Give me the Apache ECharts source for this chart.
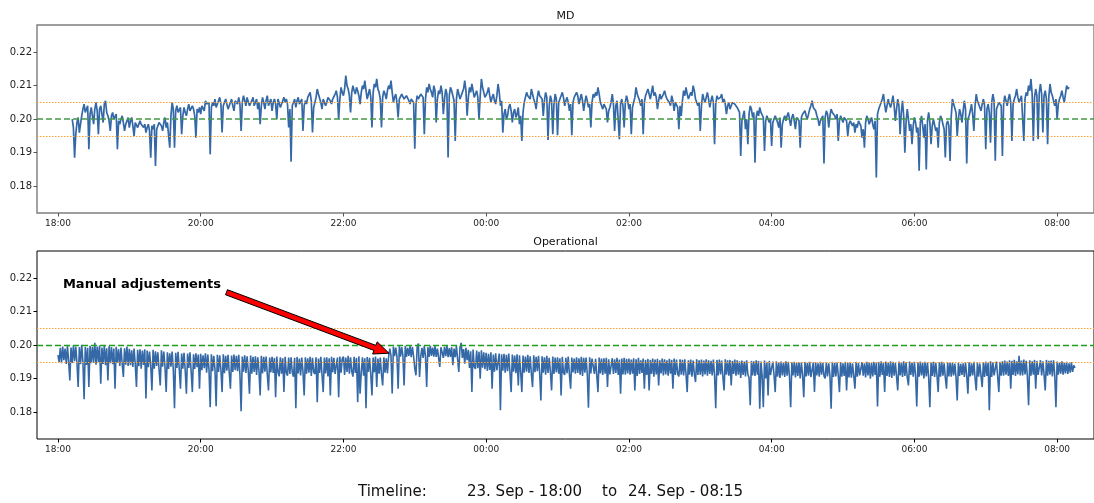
<!DOCTYPE html>
<html>
<head>
<meta charset="utf-8">
<script src="https://cdn.jsdelivr.net/npm/echarts@6/dist/echarts.min.js"></script>
<style>
  html, body { margin: 0; padding: 0; background: #ffffff; }
  #chart { width: 1094px; height: 503px; }
</style>
</head>
<body>
<div id="chart"></div>
<script>
// ---- Data -------------------------------------------------------------
// Time is counted in minutes after 23 Sep 18:00.

// MD reading: one sample per minute from 18:12 to 08:10
const mdStartMin = 12;
const mdStepMin = 1;
const mdValues = [
  0.2000, 0.1975, 0.1885, 0.1955, 0.1990, 0.2005, 0.1960, 0.1985, 0.2010, 0.2030, 0.2045, 0.2020, 0.2025, 0.2040, 0.1910, 0.2015, 0.2035, 0.2010, 0.1985, 0.2030, // 18:12
  0.2050, 0.2025, 0.1955, 0.2030, 0.2040, 0.2015, 0.1990, 0.2045, 0.2055, 0.2020, 0.2010, 0.1995, 0.1965, 0.2010, 0.2020, 0.2000, 0.1995, 0.2015, 0.1910, 0.1995, // 18:32
  0.1985, 0.2000, 0.2010, 0.1990, 0.1965, 0.1985, 0.1995, 0.2005, 0.1975, 0.1995, 0.2005, 0.1980, 0.1950, 0.1990, 0.1990, 0.1975, 0.1970, 0.1995, 0.1985, 0.1980, // 18:52
  0.1975, 0.1985, 0.1960, 0.1975, 0.1985, 0.1965, 0.1885, 0.1980, 0.1970, 0.1985, 0.1860, 0.1970, 0.1975, 0.1990, 0.1995, 0.1980, 0.1965, 0.1990, 0.2005, 0.1975, // 19:12
  0.1990, 0.1985, 0.1915, 0.2010, 0.2050, 0.2030, 0.1915, 0.2025, 0.2040, 0.2020, 0.2015, 0.2035, 0.1955, 0.2010, 0.2035, 0.2020, 0.2010, 0.2030, 0.2045, 0.2025, // 19:32
  0.2025, 0.2040, 0.2030, 0.2010, 0.1945, 0.2030, 0.2020, 0.2035, 0.2015, 0.2040, 0.2035, 0.2025, 0.2055, 0.2045, 0.2040, 0.2050, 0.1895, 0.2035, 0.2050, 0.2040, // 19:52
  0.2060, 0.2035, 0.2040, 0.2055, 0.2065, 0.2045, 0.1960, 0.2040, 0.2045, 0.2060, 0.2055, 0.2030, 0.2035, 0.2050, 0.2060, 0.2040, 0.2025, 0.2055, 0.2050, 0.2045, // 20:12
  0.2065, 0.2045, 0.1965, 0.2050, 0.2070, 0.2055, 0.2040, 0.2065, 0.2060, 0.2040, 0.2035, 0.2055, 0.2065, 0.2040, 0.2045, 0.2060, 0.2030, 0.2050, 0.1985, 0.2040, // 20:32
  0.2065, 0.2050, 0.2030, 0.2055, 0.2070, 0.2040, 0.2045, 0.2060, 0.2025, 0.2050, 0.2060, 0.2045, 0.2000, 0.2060, 0.2055, 0.2035, 0.2040, 0.2055, 0.2065, 0.2050, // 20:52
  0.2060, 0.2045, 0.1975, 0.2030, 0.1873, 0.2040, 0.2050, 0.2060, 0.2035, 0.2055, 0.2065, 0.2045, 0.2045, 0.2060, 0.1965, 0.2040, 0.2055, 0.2045, 0.2065, 0.2070, // 21:12
  0.2080, 0.2055, 0.1960, 0.2035, 0.2040, 0.2065, 0.2090, 0.2075, 0.2070, 0.2050, 0.2030, 0.2060, 0.2055, 0.2040, 0.2050, 0.2065, 0.2065, 0.2055, 0.2045, 0.2060, // 21:32
  0.2060, 0.2075, 0.2085, 0.2065, 0.2000, 0.2060, 0.2095, 0.2080, 0.2070, 0.2090, 0.2130, 0.2100, 0.2090, 0.2070, 0.2020, 0.2080, 0.2100, 0.2085, 0.2075, 0.2095, // 21:52
  0.2085, 0.2070, 0.2045, 0.2080, 0.2100, 0.2090, 0.2115, 0.2085, 0.2060, 0.2075, 0.2090, 0.2065, 0.1975, 0.2080, 0.2105, 0.2095, 0.2120, 0.2090, 0.2080, 0.2060, // 22:12
  0.1975, 0.2065, 0.2085, 0.2075, 0.2060, 0.2085, 0.2100, 0.2090, 0.2115, 0.2080, 0.2050, 0.2065, 0.2075, 0.2050, 0.2005, 0.2060, 0.2055, 0.2075, 0.2070, 0.2060, // 22:32
  0.2060, 0.2070, 0.2075, 0.2055, 0.2045, 0.2060, 0.2065, 0.2050, 0.1912, 0.2045, 0.2070, 0.2060, 0.2055, 0.2075, 0.2080, 0.2065, 0.1955, 0.2060, 0.2095, 0.2080, // 22:52
  0.2105, 0.2090, 0.2080, 0.2065, 0.2100, 0.2085, 0.1990, 0.2060, 0.2085, 0.2075, 0.2100, 0.2080, 0.2015, 0.2060, 0.2090, 0.2075, 0.1886, 0.2070, 0.2095, 0.2085, // 23:12
  0.2070, 0.2055, 0.1935, 0.2060, 0.2090, 0.2075, 0.2060, 0.2070, 0.2080, 0.2090, 0.2115, 0.2085, 0.2010, 0.2065, 0.2095, 0.2080, 0.2105, 0.2085, 0.2065, 0.2075, // 23:32
  0.2085, 0.2065, 0.2000, 0.2070, 0.2120, 0.2095, 0.2080, 0.2065, 0.2060, 0.2080, 0.2095, 0.2070, 0.2050, 0.2065, 0.2075, 0.2055, 0.2045, 0.2070, 0.2105, 0.2080, // 23:52
  0.2040, 0.2055, 0.1960, 0.2015, 0.2030, 0.2000, 0.2010, 0.2035, 0.2045, 0.2025, 0.1990, 0.2020, 0.2030, 0.2005, 0.2015, 0.2035, 0.1985, 0.2010, 0.1935, 0.2020, // 00:12
  0.2050, 0.2065, 0.2080, 0.2070, 0.2075, 0.2060, 0.2090, 0.2075, 0.2060, 0.2050, 0.2030, 0.2065, 0.2085, 0.2070, 0.2075, 0.2060, 0.2010, 0.2055, 0.2080, 0.2065, // 00:32
  0.1938, 0.2040, 0.2070, 0.2055, 0.1955, 0.2045, 0.2075, 0.2060, 0.1952, 0.2050, 0.2060, 0.2070, 0.2080, 0.2065, 0.2040, 0.2055, 0.2065, 0.2050, 0.2025, 0.2045, // 00:52
  0.1952, 0.2050, 0.2065, 0.2060, 0.2080, 0.2070, 0.2045, 0.2060, 0.2075, 0.2055, 0.2025, 0.2050, 0.2070, 0.2055, 0.2035, 0.2045, 0.1975, 0.2050, 0.2075, 0.2065, // 01:12
  0.2080, 0.2070, 0.2095, 0.2075, 0.2050, 0.2040, 0.2030, 0.2045, 0.2045, 0.2030, 0.1990, 0.2025, 0.2035, 0.2050, 0.2075, 0.2045, 0.1965, 0.2040, 0.2055, 0.2060, // 01:32
  0.1940, 0.2045, 0.2060, 0.2040, 0.1975, 0.2050, 0.2070, 0.2055, 0.2030, 0.2045, 0.1955, 0.2035, 0.2050, 0.2065, 0.2095, 0.2075, 0.2070, 0.2055, 0.2040, 0.2060, // 01:52
  0.1955, 0.2050, 0.2070, 0.2065, 0.2090, 0.2075, 0.2060, 0.2080, 0.2100, 0.2070, 0.2080, 0.2065, 0.2030, 0.2055, 0.2075, 0.2060, 0.2065, 0.2075, 0.2085, 0.2070, // 02:12
  0.2060, 0.2065, 0.2050, 0.2040, 0.2070, 0.2055, 0.2025, 0.2050, 0.2045, 0.2035, 0.1970, 0.2040, 0.2010, 0.2055, 0.2085, 0.2070, 0.2095, 0.2075, 0.2060, 0.2065, // 02:32
  0.2080, 0.2070, 0.2100, 0.2085, 0.2060, 0.2055, 0.2040, 0.2050, 0.1965, 0.2040, 0.2075, 0.2060, 0.2050, 0.2065, 0.2080, 0.2060, 0.2035, 0.2055, 0.2070, 0.2050, // 02:52
  0.1925, 0.2045, 0.2070, 0.2060, 0.2055, 0.2065, 0.2075, 0.2050, 0.2060, 0.2045, 0.2015, 0.2040, 0.2050, 0.2030, 0.2035, 0.2050, 0.2055, 0.2045, 0.2040, 0.2035, // 03:12
  0.2030, 0.2020, 0.1890, 0.1995, 0.2010, 0.2025, 0.1970, 0.2000, 0.1925, 0.2015, 0.2040, 0.2030, 0.2005, 0.2020, 0.1870, 0.2005, 0.2025, 0.2010, 0.2035, 0.2020, // 03:32
  0.2020, 0.2005, 0.1905, 0.1995, 0.2010, 0.2015, 0.1990, 0.2000, 0.1920, 0.1990, 0.1985, 0.2010, 0.2005, 0.1990, 0.1975, 0.2005, 0.1915, 0.1985, 0.2000, 0.2010, // 03:52
  0.1995, 0.2010, 0.2020, 0.2000, 0.1980, 0.2005, 0.2015, 0.1995, 0.1970, 0.2005, 0.2010, 0.1995, 0.1915, 0.2005, 0.2015, 0.2020, 0.2025, 0.2010, 0.2000, 0.2015, // 04:12
  0.2030, 0.2040, 0.2055, 0.2035, 0.2040, 0.2025, 0.2010, 0.2000, 0.1980, 0.1995, 0.2000, 0.2010, 0.1868, 0.2005, 0.2025, 0.2015, 0.1975, 0.2010, 0.2030, 0.2020, // 04:32
  0.2020, 0.2010, 0.2000, 0.2015, 0.1935, 0.1995, 0.2010, 0.2000, 0.1990, 0.2005, 0.2005, 0.1995, 0.1950, 0.1985, 0.1995, 0.2000, 0.1980, 0.1990, 0.1960, 0.1985, // 04:52
  0.1975, 0.1995, 0.1990, 0.1980, 0.1945, 0.1970, 0.1915, 0.1990, 0.2010, 0.2000, 0.1985, 0.1995, 0.2005, 0.1985, 0.1970, 0.1995, 0.1826, 0.2015, 0.2030, 0.2040, // 05:12
  0.2050, 0.2060, 0.2075, 0.2045, 0.2020, 0.2040, 0.2060, 0.2045, 0.2035, 0.2050, 0.2070, 0.2040, 0.1995, 0.2030, 0.2060, 0.2040, 0.1955, 0.2020, 0.2055, 0.2010, // 05:32
  0.1900, 0.1990, 0.2030, 0.2000, 0.1965, 0.1985, 0.1925, 0.1980, 0.2005, 0.1990, 0.1960, 0.1975, 0.1846, 0.1990, 0.2010, 0.1980, 0.1945, 0.1985, 0.1850, 0.1995, // 05:52
  0.2020, 0.1990, 0.1925, 0.1980, 0.2000, 0.1995, 0.1965, 0.1975, 0.1915, 0.1990, 0.2010, 0.2000, 0.1985, 0.1970, 0.1886, 0.1985, 0.1995, 0.1980, 0.1875, 0.2010, // 06:12
  0.2060, 0.2045, 0.2040, 0.2020, 0.1950, 0.2000, 0.2030, 0.2015, 0.1990, 0.2025, 0.2055, 0.2030, 0.1868, 0.2000, 0.2010, 0.2025, 0.2045, 0.2015, 0.1965, 0.2040, // 06:32
  0.2075, 0.2055, 0.2050, 0.2035, 0.2025, 0.2045, 0.2060, 0.2040, 0.1910, 0.2030, 0.2045, 0.2020, 0.1930, 0.2050, 0.2075, 0.2055, 0.1876, 0.2030, 0.2040, 0.2050, // 06:52
  0.2055, 0.2040, 0.1890, 0.2045, 0.2070, 0.2055, 0.2040, 0.2060, 0.2075, 0.2050, 0.1935, 0.2045, 0.2060, 0.2070, 0.2090, 0.2065, 0.2050, 0.2060, 0.2070, 0.2075, // 07:12
  0.1935, 0.2060, 0.2080, 0.2070, 0.2100, 0.2085, 0.2120, 0.2075, 0.1935, 0.2065, 0.2090, 0.2070, 0.1940, 0.2080, 0.2105, 0.2075, 0.1960, 0.2070, 0.2085, 0.2060, // 07:32
  0.1925, 0.2065, 0.2105, 0.2080, 0.2070, 0.2055, 0.2040, 0.2060, 0.2000, 0.2045, 0.2060, 0.2070, 0.2085, 0.2065, 0.2050, 0.2075, 0.2100, 0.2090, 0.2095          // 07:52
];

// Operational reading: one sample per minute from 18:00 to 08:15
const opStartMin = 0;
const opStepMin = 1;
const opValues = [
  0.1970, 0.1950, 0.1992, 0.1946, 0.1996, 0.1955, 0.1990, 0.1944, 0.1998, 0.1951, 0.1895, 0.1993, 0.1947, 0.1999, 0.1952, // 18:00
  0.1996, 0.1946, 0.1875, 0.1994, 0.1943, 0.2001, 0.1950, 0.1839, 0.1995, 0.1941, 0.1992, 0.1875, 0.1998, 0.1946, 0.1995, // 18:15
  0.1948, 0.2007, 0.1942, 0.1996, 0.1950, 0.1999, 0.1885, 0.1993, 0.1944, 0.2000, 0.1940, 0.1991, 0.1895, 0.1997, 0.1946, // 18:30
  0.1994, 0.1943, 0.1990, 0.1870, 0.1995, 0.1948, 0.1988, 0.1938, 0.1993, 0.1945, 0.1905, 0.1991, 0.1942, 0.1996, 0.1938, // 18:45
  0.1989, 0.1940, 0.1985, 0.1935, 0.1990, 0.1943, 0.1875, 0.1986, 0.1937, 0.1988, 0.1930, 0.1984, 0.1941, 0.1988, 0.1841, // 19:00
  0.1984, 0.1934, 0.1981, 0.1940, 0.1865, 0.1986, 0.1930, 0.1982, 0.1938, 0.1979, 0.1928, 0.1880, 0.1985, 0.1936, 0.1981, // 19:15
  0.1935, 0.1860, 0.1979, 0.1929, 0.1976, 0.1936, 0.1981, 0.1926, 0.1812, 0.1977, 0.1932, 0.1980, 0.1928, 0.1870, 0.1975, // 19:30
  0.1930, 0.1977, 0.1925, 0.1855, 0.1975, 0.1932, 0.1979, 0.1921, 0.1860, 0.1973, 0.1929, 0.1976, 0.1934, 0.1972, 0.1870, // 19:45
  0.1974, 0.1925, 0.1970, 0.1931, 0.1976, 0.1918, 0.1972, 0.1927, 0.1815, 0.1973, 0.1922, 0.1968, 0.1929, 0.1818, 0.1971, // 20:00
  0.1920, 0.1970, 0.1926, 0.1860, 0.1973, 0.1916, 0.1968, 0.1924, 0.1971, 0.1919, 0.1870, 0.1969, 0.1920, 0.1972, 0.1925, // 20:15
  0.1968, 0.1922, 0.1971, 0.1912, 0.1803, 0.1966, 0.1921, 0.1970, 0.1917, 0.1967, 0.1924, 0.1855, 0.1969, 0.1915, 0.1965, // 20:30
  0.1920, 0.1967, 0.1911, 0.1964, 0.1923, 0.1850, 0.1968, 0.1916, 0.1965, 0.1921, 0.1966, 0.1913, 0.1865, 0.1963, 0.1919, // 20:45
  0.1965, 0.1917, 0.1962, 0.1845, 0.1966, 0.1920, 0.1907, 0.1964, 0.1915, 0.1961, 0.1860, 0.1965, 0.1918, 0.1909, 0.1963, // 21:00
  0.1914, 0.1964, 0.1919, 0.1906, 0.1962, 0.1812, 0.1965, 0.1916, 0.1960, 0.1910, 0.1963, 0.1921, 0.1850, 0.1964, 0.1915, // 21:15
  0.1961, 0.1918, 0.1965, 0.1908, 0.1962, 0.1920, 0.1914, 0.1964, 0.1830, 0.1960, 0.1917, 0.1965, 0.1912, 0.1860, 0.1963, // 21:30
  0.1916, 0.1964, 0.1907, 0.1961, 0.1850, 0.1965, 0.1919, 0.1962, 0.1914, 0.1910, 0.1963, 0.1845, 0.1966, 0.1918, 0.1960, // 21:45
  0.1966, 0.1911, 0.1963, 0.1920, 0.1968, 0.1915, 0.1964, 0.1921, 0.1906, 0.1965, 0.1917, 0.1962, 0.1830, 0.1967, 0.1855, // 22:00
  0.1918, 0.1964, 0.1909, 0.1961, 0.1812, 0.1965, 0.1920, 0.1962, 0.1913, 0.1850, 0.1963, 0.1919, 0.1966, 0.1875, 0.1960, // 22:15
  0.1915, 0.1963, 0.1912, 0.1880, 0.1964, 0.1918, 0.1961, 0.1916, 0.1966, 0.1990, 0.1968, 0.1856, 0.1996, 0.1967, 0.1993, // 22:30
  0.1967, 0.1870, 0.1997, 0.1966, 0.1994, 0.1969, 0.1880, 0.1998, 0.1965, 0.1992, 0.1968, 0.1997, 0.1964, 0.1995, 0.1967, // 22:45
  0.1930, 0.1910, 0.1995, 0.2005, 0.1905, 0.1966, 0.1992, 0.1962, 0.1997, 0.1966, 0.1875, 0.1994, 0.1965, 0.1998, 0.1968, // 23:00
  0.1993, 0.1966, 0.1997, 0.1965, 0.1990, 0.1963, 0.1935, 0.1994, 0.1996, 0.1962, 0.1995, 0.1967, 0.1998, 0.1964, 0.1991, // 23:15
  0.1965, 0.1994, 0.1940, 0.1990, 0.1964, 0.1997, 0.1958, 0.1920, 0.1993, 0.2007, 0.1962, 0.1988, 0.1945, 0.1992, 0.1955, // 23:30
  0.1986, 0.1932, 0.1982, 0.1860, 0.1987, 0.1935, 0.1929, 0.1984, 0.1931, 0.1980, 0.1900, 0.1985, 0.1933, 0.1979, 0.1928, // 23:45
  0.1977, 0.1923, 0.1974, 0.1926, 0.1979, 0.1870, 0.1972, 0.1921, 0.1976, 0.1925, 0.1921, 0.1975, 0.1806, 0.1973, 0.1924, // 00:00
  0.1974, 0.1918, 0.1971, 0.1922, 0.1975, 0.1919, 0.1860, 0.1972, 0.1921, 0.1969, 0.1916, 0.1973, 0.1880, 0.1970, 0.1920, // 00:15
  0.1860, 0.1969, 0.1918, 0.1966, 0.1921, 0.1971, 0.1917, 0.1967, 0.1915, 0.1875, 0.1970, 0.1919, 0.1965, 0.1922, 0.1968, // 00:30
  0.1916, 0.1835, 0.1967, 0.1918, 0.1964, 0.1912, 0.1968, 0.1917, 0.1962, 0.1920, 0.1865, 0.1966, 0.1914, 0.1963, 0.1919, // 00:45
  0.1964, 0.1915, 0.1961, 0.1850, 0.1965, 0.1918, 0.1911, 0.1962, 0.1916, 0.1966, 0.1913, 0.1870, 0.1963, 0.1919, 0.1960, // 01:00
  0.1915, 0.1964, 0.1917, 0.1961, 0.1912, 0.1965, 0.1908, 0.1962, 0.1918, 0.1963, 0.1914, 0.1813, 0.1964, 0.1916, 0.1960, // 01:15
  0.1962, 0.1914, 0.1959, 0.1910, 0.1860, 0.1963, 0.1916, 0.1960, 0.1911, 0.1961, 0.1915, 0.1962, 0.1875, 0.1958, 0.1913, // 01:30
  0.1909, 0.1961, 0.1914, 0.1958, 0.1917, 0.1962, 0.1911, 0.1957, 0.1855, 0.1960, 0.1913, 0.1962, 0.1912, 0.1959, 0.1916, // 01:45
  0.1960, 0.1912, 0.1957, 0.1915, 0.1961, 0.1865, 0.1958, 0.1908, 0.1962, 0.1914, 0.1955, 0.1917, 0.1960, 0.1870, 0.1956, // 02:00
  0.1911, 0.1959, 0.1865, 0.1956, 0.1914, 0.1960, 0.1906, 0.1957, 0.1913, 0.1959, 0.1880, 0.1955, 0.1916, 0.1960, 0.1910, // 02:15
  0.1958, 0.1913, 0.1955, 0.1909, 0.1959, 0.1915, 0.1956, 0.1870, 0.1960, 0.1911, 0.1957, 0.1914, 0.1907, 0.1958, 0.1912, // 02:30
  0.1956, 0.1910, 0.1958, 0.1914, 0.1860, 0.1955, 0.1912, 0.1957, 0.1906, 0.1954, 0.1915, 0.1890, 0.1958, 0.1911, 0.1955, // 02:45
  0.1912, 0.1957, 0.1907, 0.1954, 0.1913, 0.1958, 0.1909, 0.1955, 0.1914, 0.1953, 0.1910, 0.1957, 0.1911, 0.1812, 0.1956, // 03:00
  0.1910, 0.1957, 0.1913, 0.1954, 0.1906, 0.1865, 0.1958, 0.1912, 0.1955, 0.1909, 0.1956, 0.1880, 0.1953, 0.1914, 0.1957, // 03:15
  0.1909, 0.1955, 0.1912, 0.1952, 0.1902, 0.1954, 0.1911, 0.1951, 0.1907, 0.1955, 0.1913, 0.1903, 0.1821, 0.1953, 0.1910, // 03:30
  0.1952, 0.1908, 0.1955, 0.1912, 0.1953, 0.1810, 0.1951, 0.1909, 0.1815, 0.1954, 0.1901, 0.1950, 0.1850, 0.1953, 0.1911, // 03:45
  0.1908, 0.1951, 0.1911, 0.1860, 0.1952, 0.1906, 0.1949, 0.1902, 0.1951, 0.1910, 0.1948, 0.1905, 0.1952, 0.1909, 0.1950, // 04:00
  0.1906, 0.1815, 0.1949, 0.1910, 0.1950, 0.1904, 0.1947, 0.1908, 0.1949, 0.1901, 0.1948, 0.1911, 0.1845, 0.1950, 0.1907, // 04:15
  0.1947, 0.1909, 0.1950, 0.1905, 0.1904, 0.1948, 0.1860, 0.1949, 0.1910, 0.1946, 0.1906, 0.1950, 0.1912, 0.1947, 0.1908, // 04:30
  0.1901, 0.1949, 0.1907, 0.1946, 0.1910, 0.1810, 0.1950, 0.1905, 0.1947, 0.1907, 0.1948, 0.1911, 0.1860, 0.1949, 0.1906, // 04:45
  0.1946, 0.1908, 0.1950, 0.1865, 0.1947, 0.1904, 0.1949, 0.1903, 0.1946, 0.1909, 0.1870, 0.1950, 0.1906, 0.1947, 0.1910, // 05:00
  0.1905, 0.1949, 0.1909, 0.1946, 0.1904, 0.1950, 0.1910, 0.1948, 0.1900, 0.1947, 0.1907, 0.1950, 0.1911, 0.1948, 0.1817, // 05:15
  0.1950, 0.1906, 0.1952, 0.1911, 0.1949, 0.1860, 0.1951, 0.1908, 0.1948, 0.1905, 0.1952, 0.1902, 0.1950, 0.1909, 0.1947, // 05:30
  0.1907, 0.1865, 0.1951, 0.1910, 0.1948, 0.1905, 0.1952, 0.1908, 0.1949, 0.1904, 0.1880, 0.1951, 0.1911, 0.1948, 0.1906, // 05:45
  0.1950, 0.1909, 0.1817, 0.1949, 0.1906, 0.1951, 0.1910, 0.1947, 0.1901, 0.1950, 0.1907, 0.1948, 0.1904, 0.1815, 0.1949, // 06:00
  0.1908, 0.1950, 0.1905, 0.1947, 0.1910, 0.1860, 0.1949, 0.1906, 0.1950, 0.1909, 0.1946, 0.1903, 0.1870, 0.1948, 0.1907, // 06:15
  0.1947, 0.1906, 0.1948, 0.1910, 0.1945, 0.1904, 0.1835, 0.1947, 0.1908, 0.1944, 0.1911, 0.1946, 0.1905, 0.1948, 0.1909, // 06:30
  0.1855, 0.1949, 0.1907, 0.1946, 0.1910, 0.1950, 0.1902, 0.1865, 0.1948, 0.1906, 0.1945, 0.1909, 0.1875, 0.1949, 0.1905, // 06:45
  0.1951, 0.1908, 0.1948, 0.1806, 0.1952, 0.1905, 0.1949, 0.1910, 0.1905, 0.1951, 0.1907, 0.1860, 0.1950, 0.1909, 0.1952, // 07:00
  0.1909, 0.1954, 0.1912, 0.1951, 0.1908, 0.1955, 0.1870, 0.1953, 0.1911, 0.1956, 0.1908, 0.1952, 0.1913, 0.1968, 0.1910, // 07:15
  0.1954, 0.1910, 0.1957, 0.1913, 0.1953, 0.1906, 0.1821, 0.1955, 0.1909, 0.1952, 0.1912, 0.1956, 0.1870, 0.1953, 0.1911, // 07:30
  0.1908, 0.1955, 0.1910, 0.1952, 0.1913, 0.1865, 0.1956, 0.1909, 0.1953, 0.1912, 0.1954, 0.1907, 0.1955, 0.1911, 0.1815, // 07:45
  0.1951, 0.1912, 0.1948, 0.1915, 0.1952, 0.1912, 0.1947, 0.1916, 0.1950, 0.1914, 0.1946, 0.1918, 0.1949, 0.1920, 0.1940, 0.1932 // 08:00
];

// Control limits and target
const lowerLimit = 0.195;
const targetLevel = 0.200;
const upperLimit = 0.205;

// Axis ticks
const xTickMinutes = [0, 120, 240, 360, 480, 600, 720, 840];
const xTickLabels = ['18:00', '20:00', '22:00', '00:00', '02:00', '04:00', '06:00', '08:00'];
const yTickValues = [0.18, 0.19, 0.20, 0.21, 0.22];

// Titles and notes
const panelTitles = ['MD', 'Operational'];
const noteText = 'Manual adjustements';
const noteTextAt = [4.2, 0.2182];       // [minutes, value] of the note's left edge
const noteArrowFrom = [141.7, 0.2158];  // arrow tail
const noteArrowTo = [278.3, 0.1976];    // arrow head
const timelineParts = ['Timeline:', '23. Sep - 18:00', 'to', '24. Sep - 08:15'];

// ---- Chart ------------------------------------------------------------
const FONT = 'DejaVu Sans';
const xMin = -17.6, xMax = 871;
const yMin = 0.1720, yMax = 0.2281;
const LINE_COLOR = '#3468a6';

function toPairs(start, step, vals) {
  return vals.map((v, i) => [start + i * step, v]);
}

function xAxisFor(gridIndex, tickColor) {
  return {
    type: 'value', gridIndex, min: xMin, max: xMax,
    axisLine: { show: false, onZero: false }, splitLine: { show: false },
    axisTick: { show: true, customValues: xTickMinutes, length: 3.5, inside: false,
                lineStyle: { color: tickColor, width: 1 } },
    axisLabel: { customValues: xTickMinutes, fontSize: 9, fontFamily: FONT, color: '#222',
                 margin: 6, formatter: v => xTickLabels[xTickMinutes.indexOf(v)] }
  };
}

function yAxisFor(gridIndex, tickColor) {
  return {
    type: 'value', gridIndex, min: yMin, max: yMax,
    axisLine: { show: false, onZero: false }, splitLine: { show: false },
    axisTick: { show: true, customValues: yTickValues, length: 3.5, inside: false,
                lineStyle: { color: tickColor, width: 1 } },
    axisLabel: { customValues: yTickValues, fontSize: 10, fontFamily: FONT, color: '#222',
                 margin: 5, formatter: v => v.toFixed(2) }
  };
}

// Limit and target lines; precision keeps 0.195 / 0.205 from being rounded onto 0.20
function limitLines(greenColor, greenWidth, orangeWidth) {
  return {
    silent: true, symbol: ['none', 'none'], animation: false, precision: 4,
    label: { show: false }, emphasis: { disabled: true },
    data: [
      { name: 'upper', yAxis: upperLimit,
        lineStyle: { color: '#ffa033', type: [1.5, 1.5], width: orangeWidth } },
      { name: 'lower', yAxis: lowerLimit,
        lineStyle: { color: '#ffa033', type: [1.5, 1.5], width: orangeWidth } },
      { name: 'target', yAxis: targetLevel,
        lineStyle: { color: greenColor, type: [6, 3], width: greenWidth } }
    ]
  };
}

const chart = echarts.init(document.getElementById('chart'), null, { renderer: 'canvas' });

const option = {
  animation: false,
  backgroundColor: '#ffffff',
  grid: [
    { left: 37, right: -3, top: 25, height: 188, show: true, borderColor: '#7d7d7d', borderWidth: 1.4 },
    { left: 37, right: -3, top: 251, height: 188, show: true, borderColor: '#000000', borderWidth: 1 }
  ],
  xAxis: [xAxisFor(0, '#555'), xAxisFor(1, '#000')],
  yAxis: [yAxisFor(0, '#555'), yAxisFor(1, '#000')],
  series: [
    {
      name: panelTitles[0], type: 'line', xAxisIndex: 0, yAxisIndex: 0,
      data: toPairs(mdStartMin, mdStepMin, mdValues),
      showSymbol: false, symbol: 'none',
      lineStyle: { color: LINE_COLOR, width: 1.7 },
      emphasis: { disabled: true },
      markLine: limitLines('#449944', 1.7, 1.2)
    },
    {
      name: panelTitles[1], type: 'line', xAxisIndex: 1, yAxisIndex: 1,
      data: toPairs(opStartMin, opStepMin, opValues),
      showSymbol: false, symbol: 'none',
      lineStyle: { color: LINE_COLOR, width: 1.6 },
      emphasis: { disabled: true },
      markLine: limitLines('#1f9f1f', 1.4, 1)
    }
  ]
};
chart.setOption(option);

// Titles, timeline caption and the annotation are positioned from the grids and data scales
function buildGraphics() {
  const g0 = chart.getModel().getComponent('grid', 0).coordinateSystem.getRect();
  const g1 = chart.getModel().getComponent('grid', 1).coordinateSystem.getRect();
  const textStyle = (extra) => Object.assign({ fontFamily: FONT, fill: '#111' }, extra);

  const elements = [
    { type: 'text', x: g0.x + g0.width / 2, y: g0.y - 9,
      style: textStyle({ text: panelTitles[0], fontSize: 11, align: 'center', verticalAlign: 'middle' }) },
    { type: 'text', x: g1.x + g1.width / 2, y: g1.y - 9,
      style: textStyle({ text: panelTitles[1], fontSize: 11, align: 'center', verticalAlign: 'middle' }) },
    { type: 'text', x: 358, y: 492, style: textStyle({ text: timelineParts[0], fontSize: 15, verticalAlign: 'middle' }) },
    { type: 'text', x: 467, y: 492, style: textStyle({ text: timelineParts[1], fontSize: 15, verticalAlign: 'middle' }) },
    { type: 'text', x: 602, y: 492, style: textStyle({ text: timelineParts[2], fontSize: 15, verticalAlign: 'middle' }) },
    { type: 'text', x: 628, y: 492, style: textStyle({ text: timelineParts[3], fontSize: 15, verticalAlign: 'middle' }) }
  ];

  const tp = chart.convertToPixel({ gridIndex: 1 }, noteTextAt);
  elements.push({ type: 'text', x: tp[0], y: tp[1], z: 20,
    style: textStyle({ text: noteText, fontSize: 13, fontWeight: 'bold', fill: '#000', verticalAlign: 'middle' }) });

  const a = chart.convertToPixel({ gridIndex: 1 }, noteArrowFrom);
  const b = chart.convertToPixel({ gridIndex: 1 }, noteArrowTo);
  const dx = b[0] - a[0], dy = b[1] - a[1];
  const len = Math.hypot(dx, dy);
  const ux = dx / len, uy = dy / len, nx = -uy, ny = ux;
  const shaft = 2.7, head = 6.5, headLen = 15;
  const hx = b[0] - ux * headLen, hy = b[1] - uy * headLen;
  const pts = [
    [a[0] + nx * shaft, a[1] + ny * shaft],
    [hx + nx * shaft, hy + ny * shaft],
    [hx + nx * head, hy + ny * head],
    [b[0], b[1]],
    [hx - nx * head, hy - ny * head],
    [hx - nx * shaft, hy - ny * shaft],
    [a[0] - nx * shaft, a[1] - ny * shaft]
  ];
  elements.push({ type: 'polygon', z: 20, shape: { points: pts },
    style: { fill: '#ff0000', stroke: '#000000', lineWidth: 1, lineJoin: 'miter' } });

  chart.setOption({ graphic: { elements } });
}
buildGraphics();
</script>
</body>
</html>
